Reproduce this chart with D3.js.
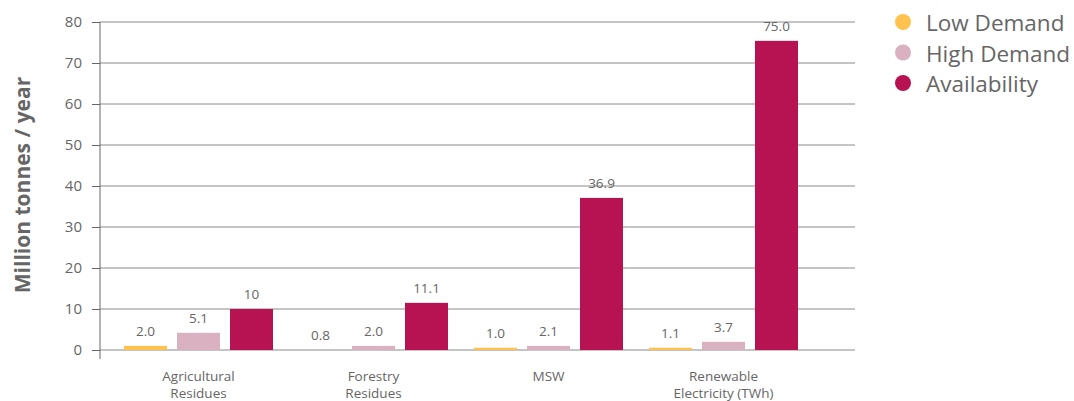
<!DOCTYPE html>
<html>
<head>
<meta charset="utf-8">
<script src="https://cdn.jsdelivr.net/npm/d3@7"></script>
<style>
  body { margin: 0; background: #fff; }
  text { font-family: "Open Sans", sans-serif; }
</style>
</head>
<body>
<script>
// categories and series
const categories = ['Agricultural\nResidues', 'Forestry\nResidues', 'MSW', 'Renewable\nElectricity (TWh)'];
const seriesNames = ['Low Demand', 'High Demand', 'Availability'];
const seriesColors = ['#ffc24f', '#d9b1c1', '#b71353'];

// bar heights as drawn, and the labels printed above them
const lowDemand = [1.0, 0, 0.55, 0.55];
const highDemand = [4.2, 1.0, 1.0, 2.0];
const availability = [10, 11.5, 37.1, 75.4];
const lowLabels = ['2.0', '0.8', '1.0', '1.1'];
const highLabels = ['5.1', '2.0', '2.1', '3.7'];
const availLabels = ['10', '11.1', '36.9', '75.0'];
const yTicks = [0, 10, 20, 30, 40, 50, 60, 70, 80];

const [w, h] = [1074, 401];
const [plotLeft, plotRight, plotTop, plotBottom] = [100, 855, 22, 350];

const svg = d3.select('body').append('svg')
  .attr('width', w)
  .attr('height', h);

const y = d3.scaleLinear().domain([0, 80]).range([plotBottom, plotTop]);
const x0 = d3.scaleBand().domain(categories).range([111, 811]);
const x1 = d3.scaleBand().domain(seriesNames).range([13, 162]).paddingInner(10 / 53);

//gridlines
svg.append('g')
  .selectAll('line')
  .data(yTicks)
  .join('line')
  .attr('x1', plotLeft)
  .attr('x2', plotRight)
  .attr('y1', d => y(d))
  .attr('y2', d => y(d))
  .attr('stroke', '#8a8a8a')
  .attr('stroke-width', 1);

//y axis
const yAxis = d3.axisLeft(y).tickValues(yTicks).tickSize(8).tickPadding(10);
const ya = svg.append('g')
  .attr('transform', `translate(${plotLeft}, 0)`)
  .call(yAxis);
ya.select('.domain').remove();
ya.selectAll('.tick line').attr('stroke', '#666');
ya.selectAll('.tick text')
  .attr('fill', '#666')
  .attr('font-size', '15px')
  .style('font-family', '"Open Sans", sans-serif');
svg.append('line')
  .attr('x1', plotLeft).attr('x2', plotLeft)
  .attr('y1', plotTop).attr('y2', 359)
  .attr('stroke', '#666');

svg.append('text')
  .attr('transform', `translate(30, 185) rotate(-90)`)
  .attr('text-anchor', 'middle')
  .attr('font-size', '21px')
  .attr('font-weight', 'bold')
  .attr('fill', '#666')
  .text('Million tonnes / year');

// build rows for bars
const rows = categories.map((c, i) => ({
  cat: c,
  vals: [
    { s: seriesNames[0], v: lowDemand[i], lab: lowLabels[i], col: seriesColors[0] },
    { s: seriesNames[1], v: highDemand[i], lab: highLabels[i], col: seriesColors[1] },
    { s: seriesNames[2], v: availability[i], lab: availLabels[i], col: seriesColors[2] }
  ]
}));

const groups = svg.append('g')
  .selectAll('g')
  .data(rows)
  .join('g')
  .attr('transform', d => `translate(${x0(d.cat)}, 0)`);

groups.selectAll('rect')
  .data(d => d.vals)
  .join('rect')
  .attr('x', d => x1(d.s))
  .attr('y', d => y(d.v))
  .attr('width', x1.bandwidth())
  .attr('height', d => y(0) - y(d.v))
  .attr('fill', d => d.col);

groups.selectAll('text.val')
  .data(d => d.vals)
  .join('text')
  .attr('class', 'val')
  .attr('x', d => x1(d.s) + x1.bandwidth() / 2)
  .attr('y', d => y(d.v) - 10)
  .attr('text-anchor', 'middle')
  .attr('font-size', '13.5px')
  .attr('fill', '#666')
  .text(d => d.lab);

// category labels
groups.append('text')
  .attr('text-anchor', 'middle')
  .attr('font-size', '13.5px')
  .attr('fill', '#666')
  .selectAll('tspan')
  .data(d => d.cat.split('\n'))
  .join('tspan')
  .attr('x', x0.bandwidth() / 2)
  .attr('y', (d, i) => 381 + i * 16.5)
  .text(d => d);

//legend
const legend = svg.append('g')
  .selectAll('g')
  .data(seriesNames)
  .join('g')
  .attr('transform', (d, i) => `translate(903, ${22 + i * 30.5})`);
legend.append('circle')
  .attr('r', 8)
  .attr('fill', (d, i) => seriesColors[i]);
legend.append('text')
  .attr('x', 23)
  .attr('y', 9)
  .attr('font-size', '22.5px')
  .attr('fill', '#666')
  .text(d => d);
</script>
</body>
</html>
